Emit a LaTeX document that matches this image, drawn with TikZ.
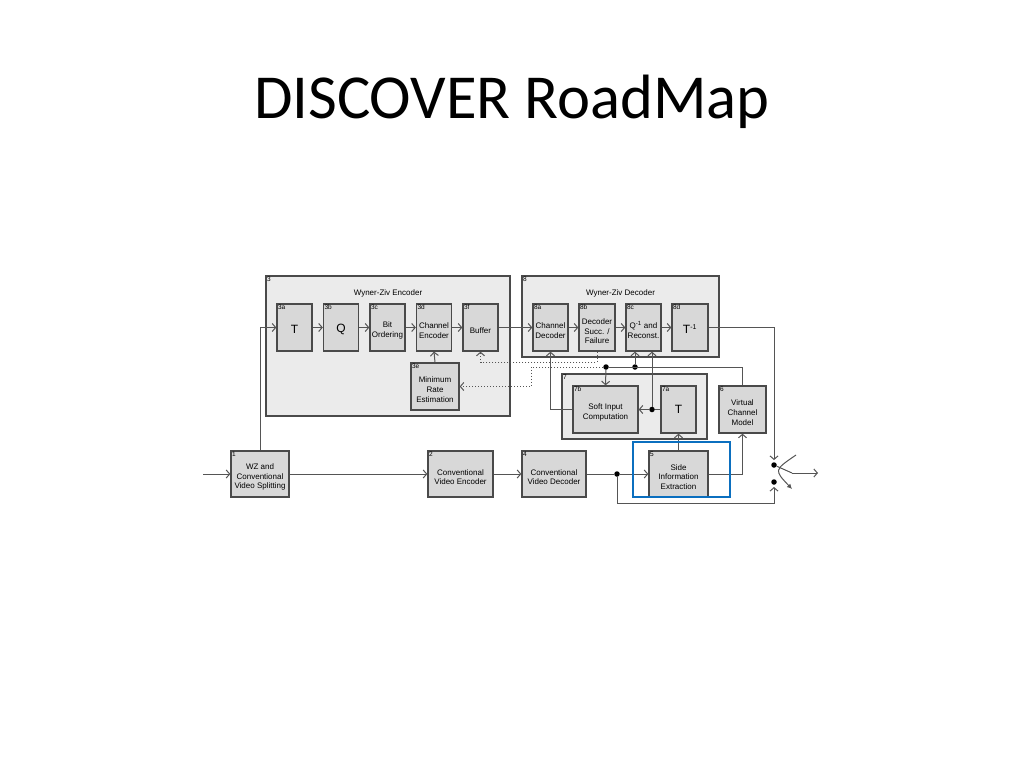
\documentclass[tikz,border=0pt]{standalone}
\usepackage{fontspec}
\setmainfont{Liberation Sans}
\newfontfamily\titlefont{Carlito}
\usetikzlibrary{arrows.meta}
\definecolor{boxgray}{HTML}{D8D8D8}
\definecolor{areagray}{HTML}{EBEBEB}
\definecolor{edgegray}{HTML}{4A4A4A}
\definecolor{wiregray}{HTML}{555555}
\definecolor{siblue}{HTML}{0B6FBF}
\newcommand\lift{\rule{0pt}{12pt}}
\tikzset{
  plain/.style={draw=none,fill=none,minimum width=0pt,minimum height=0pt},
  tagl/.style={plain,anchor=north west,inner sep=1pt,font=\fontsize{6.5}{7}\selectfont},
  tag/.style={label={[tagl]north west:#1}},
  heading/.style={label={[plain,font=\fontsize{8}{9}\selectfont,anchor=north,yshift=-10pt]north:#1}},
  blk/.style={draw=edgegray,line width=1.3pt,fill=boxgray,inner sep=1pt,align=center,
    font=\fontsize{8}{9.6}\selectfont,minimum height=47pt},
  big/.style={font=\fontsize{12}{12}\selectfont},
  area/.style={draw=edgegray,line width=1.3pt,fill=areagray},
  wire/.style={draw=wiregray,line width=1pt},
  arr/.style={wire,-{Straight Barb[length=3.5pt,width=8pt,line width=1pt]}},
  dot/.style={circle,fill=black,inner sep=0pt,minimum size=5.5pt}
}
\begin{document}
\begin{tikzpicture}[x=1pt,y=-1pt]
  \useasboundingbox (0,0) rectangle (1024,768);
  \node[font=\titlefont\fontsize{62.6}{70}\selectfont,anchor=base] (title) at (512,118) {DISCOVER RoadMap};

  \begin{scope}[every node/.style={area}]
    \node[minimum width=244pt,minimum height=140pt,tag=3,heading=Wyner-Ziv Encoder] (3) at (388,346) {};
    \node[minimum width=197pt,minimum height=81pt,tag=8,heading=Wyner-Ziv Decoder] (8) at (620.5,316.5) {};
    \node[minimum width=145pt,minimum height=65pt,tag=7] (7) at (634.5,406.5) {};
  \end{scope}

  \begin{scope}[every node/.style={blk,minimum width=35pt}]
    \node[tag=3a,big] (3a) at (294.5,327.5) {\lift T};
    \node[tag=3b,big] (3b) at (341,327.5) {\lift Q};
    \node[tag=3c] (3c) at (387.5,327.5) {\lift Bit\\Ordering};
    \node[tag=3d] (3d) at (434,327.5) {\lift Channel\\Encoder};
    \node[tag=3f] (3f) at (480.5,327.5) {\lift Buffer};
    \node[tag=3e,minimum width=48pt] (3e) at (435,386.5) {\lift Minimum\\Rate\\Estimation};
    \node[tag=8a] (8a) at (550.5,327.5) {\lift Channel\\Decoder};
    \node[tag=8b,minimum width=36pt] (8b) at (597,327.5) {\rule{0pt}{13.5pt}Decoder\\Succ. /\\Failure};
    \node[tag=8c] (8c) at (643.5,327.5) {\lift Q\textsuperscript{-1} and\\Reconst.};
    \node[tag=8d,minimum width=36pt,big] (8d) at (690,327.5) {\lift T\textsuperscript{\fontsize{7}{7}\selectfont -1}};
    \node[tag=7b,minimum width=65pt] (7b) at (605.5,409.5) {\lift Soft Input\\Computation};
    \node[tag=7a,big] (7a) at (678.5,409.5) {T};
    \node[tag=6,minimum width=47pt] (6) at (742.5,409.5) {\lift Virtual\\Channel\\Model};
    \node[tag=1,minimum width=58pt,minimum height=46pt] (1) at (260,474) {\lift WZ and\\Conventional\\Video Splitting};
    \node[tag=2,minimum width=65pt,minimum height=46pt] (2) at (460.5,474) {\lift Conventional\\Video Encoder};
    \node[tag=4,minimum width=64pt,minimum height=46pt] (4) at (554,474) {\lift Conventional\\Video Decoder};
    \node[tag=5,minimum width=59pt,minimum height=46pt] (5) at (678.5,474) {\lift Side\\Information\\Extraction};
  \end{scope}

  \coordinate (in) at (203,474);
  \coordinate (fbq) at (597,362);
  \coordinate (fbr) at (531,367);
  \coordinate (lowturn) at (617,503);
  \coordinate (bladeend) at (792,473);
  \coordinate (out) at (818,473);
  \coordinate (arcstart) at (796,455);
  \coordinate (arcbend) at (774,470);
  \coordinate (arcend) at (792,489);
  \node[dot] (fbA) at (606,367) {};
  \node[dot] (fbB) at (635,367) {};
  \node[dot] (fbC) at (652,409.5) {};
  \node[dot] (split) at (617,474) {};
  \node[dot] (updot) at (774,465) {};
  \node[dot] (lowdot) at (774,482) {};

  \begin{scope}[every edge/.style={arr}]
    \path (in) edge (1);
    \path (1.north) edge[to path={|- (\tikztotarget)}] (3a.west);
    \path (3a) edge (3b);
    \path (3b) edge (3c);
    \path (3c) edge (3d);
    \path (3d) edge (3f);
    \path (3e.north) edge (3d.south);
    \path (3f) edge (8a);
    \path (8a) edge (8b);
    \path (8b) edge (8c);
    \path (8c) edge (8d);
    \path (1) edge (2);
    \path (2) edge (4);
    \path (split) edge (5);
    \path (5.north) edge (7a.south);
    \path (5.east) edge[to path={-| (\tikztotarget)}] (6.south);
    \path (fbA) edge (7b.north);
    \path (fbB) edge (fbB |- 8c.south);
    \path (fbC) edge (fbC |- 8c.south);
    \path (fbC) edge (7b.east);
    \path (7b.west) edge[to path={-| (\tikztotarget)}] (8a.south);
    \path (8d.east) edge[to path={-| (\tikztotarget)},shorten >=2pt] (updot);
    \path (lowturn) edge[to path={-| (\tikztotarget)},shorten >=2pt] (lowdot);
    \path (bladeend) edge (out);
  \end{scope}

  \draw[wire] (4) -- (split) -- (lowturn);
  \draw[wire] (7a) -- (fbC);
  \draw[wire] (6.north) |- (fbA);
  \draw[wire] (updot) -- (bladeend);
  \draw[wire,-{Latex[length=5pt,width=5pt]}] (arcstart) .. controls (arcbend) .. (arcend);
  \draw[arr,dotted] (8b.south) -- (fbq) -| (3f.south);
  \draw[arr,dotted] (fbA) -- (fbr) |- (3e.east);

  \node[draw=siblue,line width=2.6pt,minimum width=97pt,minimum height=55pt,inner sep=0pt] (sie) at (681.5,469.5) {};
\end{tikzpicture}
\end{document}
